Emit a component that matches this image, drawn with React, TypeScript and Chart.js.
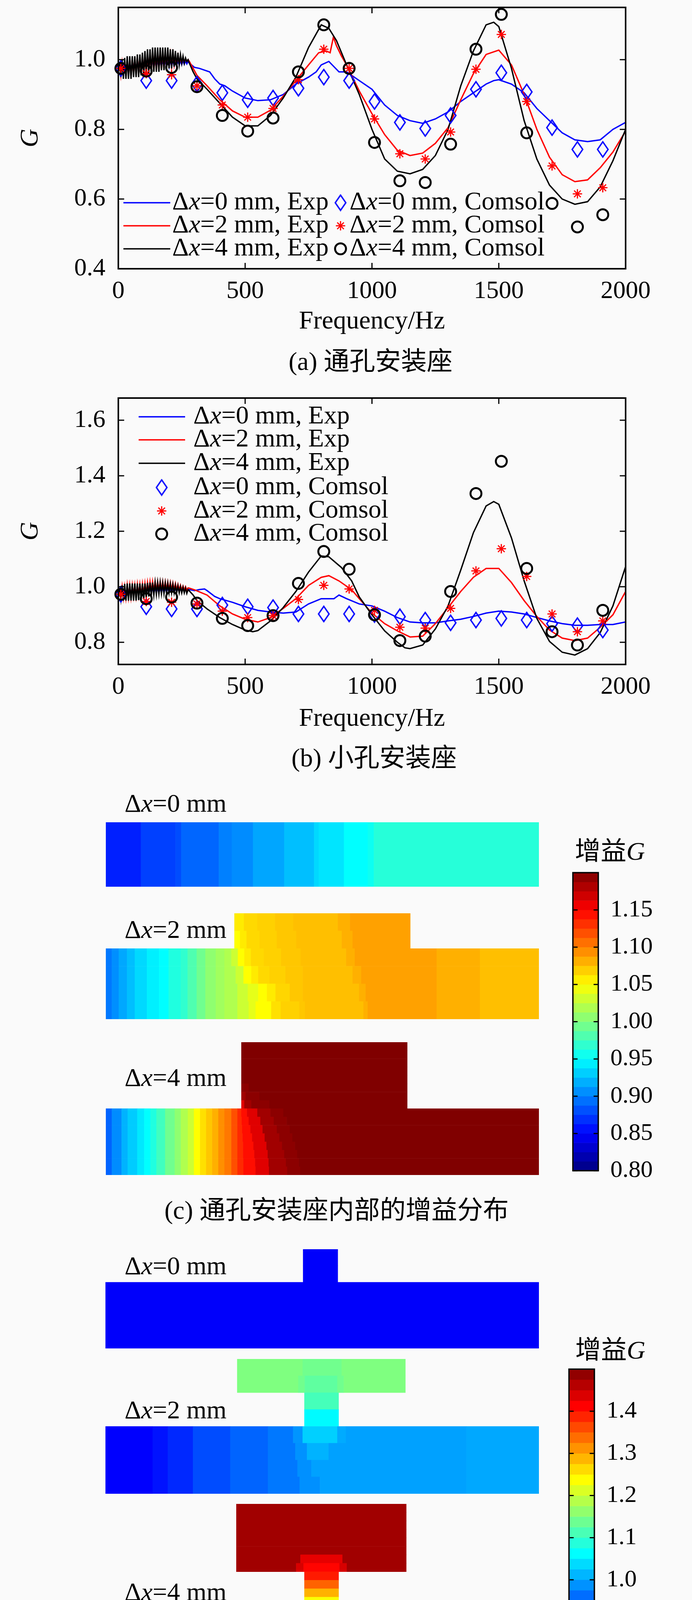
import React, { useEffect, useRef } from 'react';
import { Chart, registerables } from 'chart.js';

Chart.register(...registerables);

const SERIF = "'Liberation Serif', 'Noto Sans CJK SC', serif";
const BLUE = '#0000ff';
const RED = '#ff0000';
const BLACK = '#000000';

// ---------------- line-chart data ----------------
const xTicks = [0, 500, 1000, 1500, 2000];
const aYTicks = [0.4, 0.6, 0.8, 1.0];
const bYTicks = [0.8, 1.0, 1.2, 1.4, 1.6];
const seriesLabels = ['Δx=0 mm, Exp', 'Δx=2 mm, Exp', 'Δx=4 mm, Exp', 'Δx=0 mm, Comsol', 'Δx=2 mm, Comsol', 'Δx=4 mm, Comsol'];

const comHz = [10, 110, 210, 310, 410, 510, 610, 710, 810, 910, 1010, 1110, 1210, 1310, 1410, 1510, 1610, 1710, 1810, 1910];
const lowHz = [5, 10, 15, 20, 25, 30, 35, 40, 45, 50, 55, 60, 65, 70, 75, 80, 85, 90, 95, 100, 105, 110, 115, 120, 125, 130, 135, 140, 145, 150, 155, 160, 165, 170, 175, 180, 185, 190, 195, 200, 205, 210, 215, 220, 225, 230, 235, 240, 245, 250, 255, 260, 265, 270, 275];

// (a) through-hole mount
const aBlackLow = [0.99, 0.95, 1.0, 0.945, 1.005, 0.945, 1.01, 0.945, 1.01, 0.945, 1.01, 0.95, 1.01, 0.95, 1.015, 0.95, 1.015, 0.955, 1.02, 0.955, 1.025, 0.96, 1.03, 0.96, 1.03, 0.96, 1.035, 0.965, 1.035, 0.965, 1.035, 0.965, 1.035, 0.97, 1.035, 0.97, 1.035, 0.97, 1.035, 0.975, 1.03, 0.975, 1.03, 0.98, 1.025, 0.98, 1.02, 0.985, 1.015, 0.99, 1.01, 0.99, 1.005, 0.995, 1.0];
const aRedLow = [0.985, 0.955, 0.99, 0.955, 0.995, 0.955, 0.995, 0.955, 1.0, 0.955, 1.0, 0.96, 1.0, 0.96, 1.005, 0.96, 1.005, 0.96, 1.01, 0.96, 1.01, 0.965, 1.015, 0.965, 1.015, 0.97, 1.02, 0.97, 1.02, 0.97, 1.02, 0.975, 1.02, 0.975, 1.02, 0.975, 1.02, 0.98, 1.02, 0.98, 1.015, 0.98, 1.015, 0.985, 1.01, 0.985, 1.01, 0.99, 1.005, 0.99, 1.005, 0.995, 1.0, 0.995, 1.0];
const aBlueLow = [0.985, 0.965, 0.988, 0.965, 0.99, 0.967, 0.99, 0.97, 0.992, 0.97, 0.993, 0.972, 0.995, 0.972, 0.996, 0.974, 0.997, 0.975, 0.998, 0.975, 0.999, 0.976, 1.0, 0.977, 1.0, 0.978, 1.0, 0.978, 1.0, 0.978, 1.0, 0.979, 1.0, 0.979, 1.0, 0.98, 1.0, 0.98, 1.0, 0.98, 0.999, 0.981, 0.999, 0.982, 0.998, 0.983, 0.998, 0.985, 0.997, 0.986, 0.997, 0.987, 0.996, 0.988, 0.995];
const aBlackHi = [[280, 0.99], [295, 0.965], [310, 0.945], [330, 0.93], [350, 0.915], [400, 0.875], [450, 0.835], [500, 0.81], [550, 0.81], [600, 0.84], [650, 0.89], [700, 0.95], [750, 1.035], [800, 1.1], [830, 1.09], [860, 1.055], [900, 0.985], [950, 0.9], [1000, 0.8], [1050, 0.715], [1100, 0.68], [1150, 0.6725], [1200, 0.685], [1250, 0.725], [1300, 0.8], [1350, 0.925], [1400, 1.025], [1450, 1.1], [1480, 1.1075], [1500, 1.095], [1550, 0.975], [1600, 0.825], [1650, 0.715], [1700, 0.64], [1750, 0.6], [1800, 0.585], [1850, 0.5925], [1900, 0.635], [1950, 0.71], [2000, 0.8]];
const aRedHi = [[280, 0.995], [310, 0.955], [350, 0.925], [400, 0.885], [450, 0.853], [500, 0.835], [550, 0.835], [600, 0.855], [650, 0.895], [700, 0.94], [750, 0.985], [790, 1.02], [820, 1.025], [835, 1.02], [848, 1.065], [860, 1.04], [880, 1.01], [900, 0.985], [950, 0.91], [1000, 0.845], [1050, 0.785], [1100, 0.74], [1150, 0.725], [1200, 0.732], [1250, 0.76], [1300, 0.805], [1350, 0.885], [1400, 0.96], [1450, 1.015], [1500, 1.0275], [1550, 0.985], [1600, 0.9], [1650, 0.8], [1700, 0.72], [1750, 0.67], [1800, 0.65], [1850, 0.655], [1900, 0.69], [1950, 0.735], [2000, 0.795]];
const aBlueHi = [[280, 0.99], [300, 0.978], [320, 0.975], [340, 0.97], [360, 0.965], [380, 0.945], [400, 0.93], [420, 0.925], [450, 0.91], [500, 0.89], [550, 0.8825], [600, 0.885], [650, 0.9], [700, 0.93], [750, 0.95], [780, 0.965], [800, 0.985], [830, 0.995], [850, 0.98], [870, 0.965], [900, 0.965], [950, 0.94], [1000, 0.915], [1050, 0.87], [1100, 0.84], [1150, 0.825], [1200, 0.8175], [1250, 0.83], [1300, 0.85], [1350, 0.88], [1400, 0.905], [1450, 0.93], [1480, 0.94], [1500, 0.9425], [1550, 0.93], [1600, 0.905], [1650, 0.86], [1700, 0.825], [1750, 0.79], [1800, 0.77], [1850, 0.765], [1900, 0.77], [1950, 0.8], [2000, 0.82]];
const aDiamond = [0.975, 0.94, 0.94, 0.93, 0.905, 0.885, 0.89, 0.918, 0.95, 0.94, 0.88, 0.82, 0.8025, 0.84, 0.915, 0.9625, 0.9075, 0.805, 0.7425, 0.7425];
const aStar = [0.975, 0.96, 0.957, 0.925, 0.87, 0.835, 0.86, 0.9425, 1.03, 0.975, 0.83, 0.73, 0.715, 0.7925, 0.9725, 1.0725, 0.88, 0.695, 0.615, 0.6325];
const aCircle = [0.975, 0.9675, 0.9775, 0.9225, 0.84, 0.795, 0.8325, 0.965, 1.1, 0.975, 0.7625, 0.6525, 0.6475, 0.7575, 1.03, 1.13, 0.79, 0.5875, 0.52, 0.555];

// (b) small-hole mount
const bBlackLow = [0.99, 0.955, 1.005, 0.95, 1.01, 0.95, 1.012, 0.95, 1.012, 0.95, 1.012, 0.95, 1.012, 0.95, 1.012, 0.952, 1.012, 0.952, 1.012, 0.955, 1.012, 0.96, 1.014, 0.965, 1.015, 0.968, 1.015, 0.97, 1.015, 0.972, 1.015, 0.974, 1.015, 0.975, 1.014, 0.976, 1.013, 0.977, 1.012, 0.978, 1.01, 0.978, 1.008, 0.978, 1.005, 0.978, 1.003, 0.978, 1.0, 0.978, 0.998, 0.978, 0.995, 0.976, 0.99];
const bRedLow = [0.985, 0.96, 1.0, 0.96, 1.0, 0.96, 1.005, 0.962, 1.005, 0.962, 1.005, 0.965, 1.005, 0.965, 1.008, 0.968, 1.008, 0.97, 1.01, 0.972, 1.012, 0.975, 1.015, 0.98, 1.017, 0.982, 1.018, 0.985, 1.018, 0.985, 1.018, 0.987, 1.018, 0.987, 1.018, 0.988, 1.017, 0.988, 1.016, 0.988, 1.015, 0.988, 1.013, 0.988, 1.011, 0.988, 1.008, 0.988, 1.005, 0.988, 1.002, 0.988, 1.0, 0.988, 0.996];
const bBlueLow = [0.99, 0.968, 0.995, 0.97, 0.995, 0.97, 0.997, 0.972, 0.997, 0.972, 0.998, 0.973, 0.998, 0.974, 0.998, 0.975, 0.998, 0.975, 0.998, 0.975, 0.998, 0.976, 0.998, 0.976, 0.998, 0.977, 0.998, 0.977, 0.998, 0.978, 0.998, 0.978, 0.998, 0.979, 0.998, 0.979, 0.997, 0.98, 0.997, 0.98, 0.996, 0.981, 0.995, 0.982, 0.994, 0.983, 0.993, 0.984, 0.992, 0.985, 0.99, 0.985, 0.99, 0.986, 0.988];
const bBlackHi = [[280, 0.985], [295, 0.97], [310, 0.95], [350, 0.92], [400, 0.889], [450, 0.864], [500, 0.844], [530, 0.838], [550, 0.842], [600, 0.877], [650, 0.925], [700, 0.983], [750, 1.053], [800, 1.111], [830, 1.108], [880, 1.069], [920, 1.021], [950, 0.963], [1000, 0.899], [1050, 0.841], [1100, 0.8], [1130, 0.78], [1150, 0.777], [1200, 0.79], [1250, 0.848], [1300, 0.931], [1350, 1.06], [1400, 1.195], [1450, 1.291], [1480, 1.307], [1500, 1.297], [1550, 1.176], [1600, 1.021], [1650, 0.886], [1700, 0.803], [1750, 0.764], [1800, 0.754], [1850, 0.777], [1900, 0.835], [1950, 0.931], [2000, 1.073]];
const bRedHi = [[280, 0.995], [300, 0.989], [350, 0.97], [400, 0.931], [450, 0.902], [500, 0.883], [550, 0.873], [600, 0.889], [650, 0.922], [700, 0.957], [750, 1.005], [800, 1.034], [830, 1.04], [870, 1.021], [920, 0.989], [950, 0.957], [1000, 0.905], [1050, 0.867], [1100, 0.841], [1150, 0.819], [1200, 0.822], [1250, 0.867], [1300, 0.925], [1350, 0.983], [1400, 1.034], [1450, 1.066], [1500, 1.066], [1550, 1.015], [1600, 0.95], [1650, 0.893], [1700, 0.844], [1750, 0.815], [1800, 0.806], [1850, 0.815], [1900, 0.854], [1950, 0.899], [2000, 0.983]];
const bBlueHi = [[280, 0.99], [300, 0.986], [320, 0.99], [340, 0.992], [350, 0.986], [380, 0.965], [400, 0.957], [450, 0.944], [500, 0.928], [550, 0.915], [600, 0.909], [650, 0.905], [700, 0.909], [750, 0.938], [800, 0.957], [850, 0.957], [870, 0.97], [900, 0.957], [950, 0.938], [1000, 0.931], [1050, 0.912], [1100, 0.889], [1150, 0.873], [1200, 0.87], [1250, 0.87], [1300, 0.877], [1350, 0.883], [1400, 0.893], [1450, 0.905], [1500, 0.912], [1550, 0.909], [1600, 0.902], [1650, 0.889], [1700, 0.877], [1750, 0.867], [1800, 0.861], [1850, 0.861], [1900, 0.864], [1950, 0.864], [2000, 0.873]];
const bDiamond = [0.973, 0.928, 0.92, 0.92, 0.934, 0.928, 0.925, 0.902, 0.902, 0.902, 0.9, 0.892, 0.88, 0.87, 0.88, 0.886, 0.88, 0.867, 0.86, 0.844];
const bStar = [0.973, 0.947, 0.944, 0.938, 0.912, 0.889, 0.896, 0.954, 1.005, 0.992, 0.915, 0.854, 0.851, 0.922, 1.057, 1.137, 1.037, 0.902, 0.838, 0.877];
const bCircle = [0.973, 0.957, 0.963, 0.941, 0.886, 0.86, 0.896, 1.012, 1.127, 1.063, 0.899, 0.806, 0.822, 0.983, 1.336, 1.452, 1.066, 0.838, 0.79, 0.915];

// ---------------- gain-distribution data: [x0 %, x1 %, G] per row ----------------
type Seg = number[];
const cRange = [0.8, 1.2];
const dRange = [0.8, 1.5];
const cTicks = [0.8, 0.85, 0.9, 0.95, 1.0, 1.05, 1.1, 1.15];
const dTicks = [0.8, 0.9, 1.0, 1.1, 1.2, 1.3, 1.4];

const c0Bar: Seg[] = [[0, 8.1, 0.862], [8.1, 16.1, 0.875], [16.1, 17.4, 0.88], [17.4, 26.1, 0.89], [26.1, 29.1, 0.9], [29.1, 34.0, 0.905], [34.0, 41.2, 0.915], [41.2, 48.1, 0.925], [48.1, 49.2, 0.935], [49.2, 55.0, 0.94], [55.0, 60.5, 0.95], [60.5, 61.9, 0.955], [61.9, 100, 0.965]];

const c2Left: Seg[] = [[0, 1.4, 0.897], [1.4, 3.0, 0.906], [3.0, 4.9, 0.916], [4.9, 6.7, 0.925], [6.7, 9.5, 0.935], [9.5, 12.3, 0.944], [12.3, 14.5, 0.95], [14.5, 17.3, 0.962], [17.3, 18.9, 0.969], [18.9, 21.0, 0.981], [21.0, 23.0, 0.994], [23.0, 25.4, 1.006], [25.4, 27.4, 1.013]];
const c2Right: Seg[] = [[76.4, 86.4, 1.081], [86.4, 100, 1.075]];
const c2TopA: Seg[] = [[29.7, 31.9, 1.058], [31.9, 35.0, 1.065], [35.0, 39.1, 1.068], [39.1, 43.3, 1.072], [43.3, 53.6, 1.075], [53.6, 56.4, 1.081], [56.4, 70.3, 1.087]];
const c2TopB: Seg[] = [[29.7, 31.0, 1.05], [31.0, 32.5, 1.058], [32.5, 35.5, 1.065], [35.5, 39.5, 1.068], [39.5, 44, 1.072], [44, 54.5, 1.075], [54.5, 57, 1.081], [57, 70.3, 1.087]];
const c2Bot1: Seg[] = [[27.4, 29.0, 1.019], [29.0, 30.5, 1.03], [30.5, 32.0, 1.05], [32.0, 33.5, 1.058], [33.5, 36.5, 1.065], [36.5, 40.5, 1.068], [40.5, 45, 1.072], [45, 55.5, 1.075], [55.5, 57.5, 1.081], [57.5, 76.4, 1.087]];
const c2Bot2: Seg[] = [[27.4, 30.0, 1.019], [30.0, 31.8, 1.03], [31.8, 33.6, 1.05], [33.6, 35.2, 1.058], [35.2, 37.8, 1.065], [37.8, 41.5, 1.068], [41.5, 45.5, 1.072], [45.5, 57, 1.075], [57, 59, 1.081], [59, 76.4, 1.087]];
const c2Bot3: Seg[] = [[27.4, 30.4, 1.019], [30.4, 32.8, 1.03], [32.8, 35.2, 1.04], [35.2, 37.2, 1.05], [37.2, 39.2, 1.058], [39.2, 42.5, 1.066], [42.5, 45.5, 1.072], [45.5, 58.5, 1.075], [58.5, 60, 1.081], [60, 76.4, 1.087]];
const c2Bot4: Seg[] = [[27.4, 30.4, 1.019], [30.4, 33.0, 1.03], [33.0, 34.6, 1.04], [34.6, 38.2, 1.05], [38.2, 40.4, 1.062], [40.4, 44.7, 1.068], [44.7, 46, 1.072], [46, 59.5, 1.075], [59.5, 60.5, 1.081], [60.5, 76.4, 1.087]];

const c4Left: Seg[] = [[0, 1.4, 0.889], [1.4, 3.65, 0.905], [3.65, 5.05, 0.92], [5.05, 7.27, 0.93], [7.27, 8.88, 0.941], [8.88, 10.29, 0.95], [10.29, 11.7, 0.962], [11.7, 13.71, 0.975], [13.71, 15.93, 0.994], [15.93, 17.34, 1.006], [17.34, 18.95, 1.019], [18.95, 20.36, 1.03], [20.36, 21.77, 1.05], [21.77, 23.18, 1.062], [23.18, 24.58, 1.072], [24.58, 25.99, 1.081], [25.99, 27.4, 1.094]];
const c4Top0: Seg[] = [[31.3, 69.6, 1.25]];
const c4Top5: Seg[] = [[31.3, 33.0, 1.195], [33.0, 69.6, 1.25]];
const c4Top6: Seg[] = [[31.3, 32.3, 1.187], [32.3, 35.5, 1.195], [35.5, 69.6, 1.25]];
const c4Top7: Seg[] = [[31.3, 32.0, 1.162], [32.0, 33.6, 1.187], [33.6, 37.8, 1.195], [37.8, 69.6, 1.25]];
const c4Bot0: Seg[] = [[27.4, 29.0, 1.103], [29.0, 30.4, 1.119], [30.4, 31.3, 1.134], [31.3, 32.6, 1.145], [32.6, 35.0, 1.162], [35.0, 38.0, 1.187], [38.0, 41.0, 1.195], [41.0, 100, 1.25]];
const c4Bot1: Seg[] = [[27.4, 29.0, 1.103], [29.0, 30.4, 1.119], [30.4, 31.4, 1.134], [31.4, 33.0, 1.145], [33.0, 35.7, 1.162], [35.7, 38.8, 1.187], [38.8, 41.8, 1.195], [41.8, 100, 1.25]];
const c4Bot2: Seg[] = [[27.4, 29.0, 1.103], [29.0, 30.4, 1.119], [30.4, 31.5, 1.134], [31.5, 33.4, 1.145], [33.4, 36.2, 1.162], [36.2, 39.5, 1.187], [39.5, 42.5, 1.195], [42.5, 100, 1.25]];
const c4Bot3: Seg[] = [[27.4, 29.0, 1.103], [29.0, 30.4, 1.119], [30.4, 31.6, 1.134], [31.6, 33.8, 1.145], [33.8, 36.7, 1.162], [36.7, 40.1, 1.187], [40.1, 43.1, 1.195], [43.1, 100, 1.25]];
const c4Bot4: Seg[] = [[27.4, 29.0, 1.103], [29.0, 30.4, 1.119], [30.4, 31.7, 1.134], [31.7, 34.1, 1.145], [34.1, 37.1, 1.162], [37.1, 40.7, 1.187], [40.7, 43.7, 1.195], [43.7, 100, 1.25]];
const c4Bot5: Seg[] = [[27.4, 29.0, 1.103], [29.0, 30.4, 1.119], [30.4, 31.7, 1.134], [31.7, 34.3, 1.145], [34.3, 37.4, 1.162], [37.4, 41.2, 1.187], [41.2, 44.2, 1.195], [44.2, 100, 1.25]];
const c4Bot6: Seg[] = [[27.4, 29.0, 1.103], [29.0, 30.4, 1.119], [30.4, 31.8, 1.134], [31.8, 34.5, 1.145], [34.5, 37.6, 1.162], [37.6, 41.6, 1.187], [41.6, 44.6, 1.195], [44.6, 100, 1.25]];
const c4Bot7: Seg[] = [[27.4, 29.0, 1.103], [29.0, 30.4, 1.119], [30.4, 31.8, 1.134], [31.8, 34.6, 1.145], [34.6, 37.7, 1.162], [37.7, 41.9, 1.187], [41.9, 44.9, 1.195], [44.9, 100, 1.25]];

const d0Nub: Seg[] = [[45.6, 53.6, 0.885]];
const d0Bar: Seg[] = [[0, 100, 0.885]];

const d2Plate0: Seg[] = [[30.4, 45.5, 1.15], [45.5, 54.5, 1.14], [54.5, 69.2, 1.15]];
const d2Plate1: Seg[] = [[30.4, 44.5, 1.15], [44.5, 46, 1.14], [46, 53.5, 1.128], [53.5, 55, 1.14], [55, 69.2, 1.15]];
const d2Stem0: Seg[] = [[45.9, 53.8, 1.11]];
const d2Stem1: Seg[] = [[45.9, 53.8, 1.06]];
const d2Left: Seg[] = [[0, 10.9, 0.887], [10.9, 14.4, 0.9], [14.4, 20.2, 0.915], [20.2, 28.8, 0.94], [28.8, 37.5, 0.956]];
const d2Bar0: Seg[] = [[37.5, 43.3, 0.97], [43.3, 45.5, 0.99], [45.5, 53.5, 1.03], [53.5, 55.5, 1.005], [55.5, 83.3, 0.998], [83.3, 100, 1.003]];
const d2Bar1: Seg[] = [[37.5, 43.8, 0.97], [43.8, 46.5, 0.988], [46.5, 51.5, 1.01], [51.5, 83.3, 0.998], [83.3, 100, 1.003]];
const d2Bar2: Seg[] = [[37.5, 44.3, 0.97], [44.3, 47.5, 0.986], [47.5, 83.3, 0.998], [83.3, 100, 1.003]];
const d2Bar3: Seg[] = [[37.5, 44.8, 0.97], [44.8, 49.5, 0.986], [49.5, 83.3, 0.998], [83.3, 100, 1.003]];

const d4Plate: Seg[] = [[30.2, 69.4, 1.477]];
const d4Plate6: Seg[] = [[30.2, 45.0, 1.477], [45.0, 54.7, 1.43], [54.7, 69.4, 1.477]];
const d4Plate7: Seg[] = [[30.2, 44.0, 1.477], [44.0, 45.7, 1.44], [45.7, 54.0, 1.41], [54.0, 55.7, 1.44], [55.7, 69.4, 1.477]];
const d4Stem0: Seg[] = [[45.9, 53.8, 1.395]];
const d4Stem1: Seg[] = [[45.9, 53.8, 1.345]];
const d4Stem2: Seg[] = [[45.9, 53.8, 1.29]];
const d4Stem3: Seg[] = [[45.9, 53.8, 1.235]];
const d4Left: Seg[] = [[0, 4.4, 0.8], [4.4, 10.2, 0.828], [10.2, 14.4, 0.849], [14.4, 18.8, 0.877], [18.8, 22.3, 0.898], [22.3, 26.1, 0.915], [26.1, 29.5, 0.931], [29.5, 32.6, 0.956], [32.6, 36.0, 0.986], [36.0, 39.2, 1.01], [39.2, 41.9, 1.031]];
const d4Bar0: Seg[] = [[41.9, 44.5, 1.055], [44.5, 46, 1.09], [46, 53.6, 1.17], [53.6, 55, 1.12], [55, 100, 1.106]];
const d4Bar1: Seg[] = [[41.9, 45, 1.052], [45, 46.8, 1.085], [46.8, 52.8, 1.13], [52.8, 54.5, 1.11], [54.5, 100, 1.106]];
const d4Bar2: Seg[] = [[41.9, 45, 1.052], [45, 52.3, 1.075], [52.3, 100, 1.106]];

// ---------------- helpers ----------------
function jet(v: number, lo: number, hi: number) {
  let t = (v - lo) / (hi - lo);
  t = Math.min(1, Math.max(0, t));
  const c = (x: number) => Math.round(255 * Math.min(1, Math.max(0, x)));
  return `rgb(${c(1.5 - Math.abs(4 * t - 3))},${c(1.5 - Math.abs(4 * t - 2))},${c(1.5 - Math.abs(4 * t - 1))})`;
}

function drawRich(ctx: CanvasRenderingContext2D, label: string, x: number, y: number, size: number) {
  const parts = [
    { t: label.slice(0, 1), i: false },
    { t: label.slice(1, 2), i: true },
    { t: label.slice(2), i: false },
  ];
  let cx = x;
  ctx.fillStyle = '#000';
  ctx.textAlign = 'left';
  ctx.textBaseline = 'middle';
  for (const p of parts) {
    ctx.font = `${p.i ? 'italic ' : ''}${size}px ${SERIF}`;
    ctx.fillText(p.t, cx, y);
    cx += ctx.measureText(p.t).width;
  }
}

function makeDiamond(): HTMLCanvasElement {
  const cv = document.createElement('canvas');
  cv.width = 33;
  cv.height = 45;
  const g = cv.getContext('2d')!;
  g.strokeStyle = BLUE;
  g.lineWidth = 3.5;
  g.lineJoin = 'miter';
  g.beginPath();
  g.moveTo(16.5, 3);
  g.lineTo(30, 22.5);
  g.lineTo(16.5, 42);
  g.lineTo(3, 22.5);
  g.closePath();
  g.stroke();
  return cv;
}

function drawMarker(ctx: CanvasRenderingContext2D, kind: string, x: number, y: number, diamond: HTMLCanvasElement) {
  ctx.save();
  if (kind === 'diamond') {
    ctx.drawImage(diamond, x - diamond.width / 2, y - diamond.height / 2);
  } else if (kind === 'star') {
    ctx.strokeStyle = RED;
    ctx.lineWidth = 3;
    const r = 12;
    const d = r * Math.SQRT1_2;
    ctx.beginPath();
    ctx.moveTo(x - r, y); ctx.lineTo(x + r, y);
    ctx.moveTo(x, y - r); ctx.lineTo(x, y + r);
    ctx.moveTo(x - d, y - d); ctx.lineTo(x + d, y + d);
    ctx.moveTo(x - d, y + d); ctx.lineTo(x + d, y - d);
    ctx.stroke();
  } else {
    ctx.strokeStyle = BLACK;
    ctx.lineWidth = 5;
    ctx.beginPath();
    ctx.arc(x, y, 14, 0, Math.PI * 2);
    ctx.stroke();
  }
  ctx.restore();
}

function framePlugin(opts: { lw: number; tl: number; tw: number; xt: boolean; yt: boolean }) {
  return {
    id: 'frameBox',
    afterDraw(chart: any) {
      const { ctx, chartArea: a } = chart;
      ctx.save();
      ctx.strokeStyle = '#000';
      ctx.lineWidth = opts.tw;
      ctx.beginPath();
      if (opts.xt) {
        const sx = chart.scales.x;
        for (const t of sx.ticks) {
          const px = sx.getPixelForValue(t.value);
          ctx.moveTo(px, a.bottom); ctx.lineTo(px, a.bottom - opts.tl);
          ctx.moveTo(px, a.top); ctx.lineTo(px, a.top + opts.tl);
        }
      }
      if (opts.yt) {
        const sy = chart.scales.y;
        for (const t of sy.ticks) {
          const py = sy.getPixelForValue(t.value);
          ctx.moveTo(a.left, py); ctx.lineTo(a.left + opts.tl, py);
          ctx.moveTo(a.right, py); ctx.lineTo(a.right - opts.tl, py);
        }
      }
      ctx.stroke();
      ctx.lineWidth = opts.lw;
      ctx.strokeRect(a.left, a.top, a.right - a.left, a.bottom - a.top);
      ctx.restore();
    },
  };
}

type LegItem = { kind: string; color?: string; x0: number; x1?: number; y: number; tx: number; label: string };
function legendPlugin(items: LegItem[], diamond: HTMLCanvasElement) {
  return {
    id: 'customLegend',
    afterDatasetsDraw(chart: any) {
      const ctx: CanvasRenderingContext2D = chart.ctx;
      ctx.save();
      for (const it of items) {
        if (it.kind === 'line') {
          ctx.strokeStyle = it.color!;
          ctx.lineWidth = 3.5;
          ctx.beginPath();
          ctx.moveTo(it.x0, it.y);
          ctx.lineTo(it.x1!, it.y);
          ctx.stroke();
        } else {
          drawMarker(ctx, it.kind, it.x0, it.y, diamond);
        }
        drawRich(ctx, it.label, it.tx, it.y, 66);
      }
      ctx.restore();
    },
  };
}

function pts(hz: number[], vals: number[]) {
  return hz.map((f, i) => ({ x: f, y: vals[i] }));
}
function pairs(p: number[][]) {
  return p.map(([f, g]) => ({ x: f, y: g }));
}

function lineConfig(p: any) {
  const diamond = makeDiamond();
  const lineDs = (label: string, data: any[], color: string, order: number) => ({
    type: 'line', label, data, borderColor: color, backgroundColor: color, borderWidth: 3.5,
    pointRadius: 0, tension: 0, order, fill: false,
  });
  const markDs = (label: string, data: any[], style: any, color: string, radius: number, bw: number, order: number) => ({
    type: 'line', label, data, showLine: false, pointStyle: style, pointRadius: radius,
    pointBorderColor: color, pointBackgroundColor: 'rgba(0,0,0,0)', pointBorderWidth: bw,
    borderColor: color, order, clip: false,
  });
  const datasets = [
    lineDs(seriesLabels[0], pts(lowHz, p.blueLow).concat(pairs(p.blueHi)), BLUE, 6),
    lineDs(seriesLabels[1], pts(lowHz, p.redLow).concat(pairs(p.redHi)), RED, 5),
    lineDs(seriesLabels[2], pts(lowHz, p.blackLow).concat(pairs(p.blackHi)), BLACK, 4),
    markDs(seriesLabels[3], pts(comHz, p.diamond), diamond, BLUE, 14, 3.5, 3),
    markDs(seriesLabels[4], pts(comHz, p.star), 'star', RED, 12, 3, 2),
    markDs(seriesLabels[5], pts(comHz, p.circle), 'circle', BLACK, 14, 5, 1),
  ];
  return {
    type: 'line',
    data: { datasets },
    plugins: [framePlugin({ lw: 4, tl: 15, tw: 3, xt: true, yt: true }), legendPlugin(p.legend, diamond)],
    options: {
      animation: false, responsive: false, devicePixelRatio: 1,
      layout: { padding: { top: p.padTop, right: 170, left: 0, bottom: 0 } },
      plugins: { legend: { display: false }, tooltip: { enabled: false } },
      scales: {
        x: {
          type: 'linear', min: 0, max: 2000,
          grid: { display: false }, border: { display: false },
          ticks: { font: { family: SERIF, size: 64 }, color: '#000', padding: 12, autoSkip: false, maxRotation: 0, minRotation: 0, callback: (v: any) => String(v) },
          title: { display: true, text: 'Frequency/Hz', font: { family: SERIF, size: 66 }, color: '#000', padding: { top: 0, bottom: p.xTitlePad } },
          afterBuildTicks: (s: any) => { s.ticks = xTicks.map((v) => ({ value: v })); },
          afterFit: (s: any) => { s.height = p.xAxisH; s.paddingLeft = 0; s.paddingRight = 0; },
        },
        y: {
          type: 'linear', min: p.yMin, max: p.yMax,
          grid: { display: false }, border: { display: false },
          ticks: { font: { family: SERIF, size: 64 }, color: '#000', padding: 25, callback: (v: any) => Number(v).toFixed(1) },
          title: { display: true, text: 'G', font: { family: SERIF, size: 66, style: 'italic' }, color: '#000', padding: { top: 39, bottom: 0 } },
          afterBuildTicks: (s: any) => { s.ticks = p.yTicks.map((v: number) => ({ value: v })); },
          afterFit: (s: any) => { s.width = 303; s.paddingTop = 0; s.paddingBottom = 0; },
        },
      },
    },
  };
}

function heatConfig(rows: Seg[][], range: number[]) {
  const labels = rows.map((_, i) => 'r' + i);
  const data: any[] = [];
  const colors: string[] = [];
  rows.forEach((segs, i) => {
    segs.forEach(([x0, x1, v]) => {
      data.push({ x: [x0, x1], y: 'r' + i });
      colors.push(jet(v, range[0], range[1]));
    });
  });
  return {
    type: 'bar',
    data: { labels, datasets: [{ data, backgroundColor: colors, borderWidth: 0, barPercentage: 1, categoryPercentage: 1 }] },
    options: {
      indexAxis: 'y', animation: false, responsive: false, devicePixelRatio: 1,
      layout: { padding: 0 },
      plugins: { legend: { display: false }, tooltip: { enabled: false } },
      scales: {
        x: { type: 'linear', min: 0, max: 100, display: false },
        y: { type: 'category', display: false },
      },
    },
  };
}

function colorbarConfig(range: number[], ticks: number[], nBands: number, decimals: number, axisW: number, pad: any) {
  const data: any[] = [];
  const colors: string[] = [];
  const step = (range[1] - range[0]) / nBands;
  for (let k = 0; k < nBands; k++) {
    const lo = range[0] + k * step;
    data.push({ x: 'cb', y: [lo, lo + step] });
    colors.push(jet(lo + step / 2, range[0], range[1]));
  }
  return {
    type: 'bar',
    data: { labels: ['cb'], datasets: [{ data, backgroundColor: colors, borderWidth: 0, barPercentage: 1, categoryPercentage: 1, grouped: false }] },
    plugins: [framePlugin({ lw: 3.5, tl: 12, tw: 3, xt: false, yt: true })],
    options: {
      animation: false, responsive: false, devicePixelRatio: 1,
      layout: { padding: pad },
      plugins: { legend: { display: false }, tooltip: { enabled: false } },
      scales: {
        x: { type: 'category', display: false },
        y: {
          type: 'linear', position: 'right', min: range[0], max: range[1],
          grid: { display: false }, border: { display: false },
          ticks: { font: { family: SERIF, size: 62 }, color: '#000', padding: 23, callback: (v: any) => Number(v).toFixed(decimals) },
          afterBuildTicks: (s: any) => { s.ticks = ticks.map((v) => ({ value: v })); },
          afterFit: (s: any) => { s.width = axisW; s.paddingTop = 0; s.paddingBottom = 0; },
        },
      },
    },
  };
}

// ---------------- components ----------------
function ChartBox({ left, top, width, height, make }: { left: number; top: number; width: number; height: number; make: () => any }) {
  const ref = useRef<HTMLCanvasElement>(null);
  useEffect(() => {
    const chart = new Chart(ref.current as HTMLCanvasElement, make());
    return () => chart.destroy();
  }, []);
  return <canvas ref={ref} width={width} height={height} style={{ position: 'absolute', left, top, width, height }} />;
}

function Label({ left, baseline, n }: { left: number; baseline: number; n: string }) {
  return (
    <div style={{ position: 'absolute', left, top: baseline - 55, fontSize: 66, lineHeight: '66px', whiteSpace: 'nowrap' }}>
      Δ<i>x</i>={n} mm
    </div>
  );
}

function Caption({ cx, cy, text }: { cx: number; cy: number; text: string }) {
  return (
    <div style={{ position: 'absolute', left: cx, top: cy - 30, transform: 'translateX(-50%)', fontSize: 66, lineHeight: '66px', whiteSpace: 'nowrap' }}>
      {text}
    </div>
  );
}

function CbTitle({ left, cy }: { left: number; cy: number }) {
  return (
    <div style={{ position: 'absolute', left, top: cy - 30, fontSize: 66, lineHeight: '66px', whiteSpace: 'nowrap' }}>
      增益<i>G</i>
    </div>
  );
}

const legendA: LegItem[] = [
  { kind: 'line', color: BLUE, x0: 316, x1: 436, y: 519, tx: 441, label: seriesLabels[0] },
  { kind: 'line', color: RED, x0: 316, x1: 436, y: 578, tx: 441, label: seriesLabels[1] },
  { kind: 'line', color: BLACK, x0: 316, x1: 436, y: 637, tx: 441, label: seriesLabels[2] },
  { kind: 'diamond', x0: 872, y: 519, tx: 895, label: seriesLabels[3] },
  { kind: 'star', x0: 872, y: 578, tx: 895, label: seriesLabels[4] },
  { kind: 'circle', x0: 872, y: 637, tx: 895, label: seriesLabels[5] },
];
const legendB: LegItem[] = [
  { kind: 'line', color: BLUE, x0: 355, x1: 474, y: 67, tx: 495, label: seriesLabels[0] },
  { kind: 'line', color: RED, x0: 355, x1: 474, y: 126, tx: 495, label: seriesLabels[1] },
  { kind: 'line', color: BLACK, x0: 355, x1: 474, y: 186, tx: 495, label: seriesLabels[2] },
  { kind: 'diamond', x0: 414, y: 248, tx: 495, label: seriesLabels[3] },
  { kind: 'star', x0: 414, y: 308, tx: 495, label: seriesLabels[4] },
  { kind: 'circle', x0: 414, y: 367, tx: 495, label: seriesLabels[5] },
];

const c2Rows: Seg[][] = [c2TopA, c2TopB, [...c2Left, ...c2Bot1, ...c2Right], [...c2Left, ...c2Bot2, ...c2Right], [...c2Left, ...c2Bot3, ...c2Right], [...c2Left, ...c2Bot4, ...c2Right]];
const c4Rows: Seg[][] = [
  c4Top0, c4Top0, c4Top0, c4Top0, c4Top0, c4Top5, c4Top6, c4Top7,
  [...c4Left, ...c4Bot0], [...c4Left, ...c4Bot1], [...c4Left, ...c4Bot2], [...c4Left, ...c4Bot3],
  [...c4Left, ...c4Bot4], [...c4Left, ...c4Bot5], [...c4Left, ...c4Bot6], [...c4Left, ...c4Bot7],
];
const d0Rows: Seg[][] = [d0Nub, d0Nub, d0Bar, d0Bar, d0Bar, d0Bar];
const d2Rows: Seg[][] = [d2Plate0, d2Plate1, d2Stem0, d2Stem1, [...d2Left, ...d2Bar0], [...d2Left, ...d2Bar1], [...d2Left, ...d2Bar2], [...d2Left, ...d2Bar3]];
const d4B2 = [...d4Left, ...d4Bar2];
const d4Rows: Seg[][] = [d4Plate, d4Plate, d4Plate, d4Plate, d4Plate, d4Plate, d4Plate6, d4Plate7, d4Stem0, d4Stem1, d4Stem2, d4Stem3, [...d4Left, ...d4Bar0], [...d4Left, ...d4Bar1], d4B2, d4B2, d4B2, d4B2, d4B2, d4B2];

export default function App() {
  return (
    <div style={{ position: 'absolute', left: 0, top: 0, width: 1772, height: 4401, background: '#fafafa', fontFamily: SERIF, color: '#000', overflow: 'hidden' }}>
      <ChartBox left={0} top={0} width={1772} height={880} make={() => lineConfig({
        blueLow: aBlueLow, redLow: aRedLow, blackLow: aBlackLow, blueHi: aBlueHi, redHi: aRedHi, blackHi: aBlackHi,
        diamond: aDiamond, star: aStar, circle: aCircle, yMin: 0.4, yMax: 1.15, yTicks: aYTicks,
        padTop: 2, xAxisH: 192, xTitlePad: 17, legend: legendA,
      })} />
      <Caption cx={949} cy={922} text="(a) 通孔安装座" />
      <ChartBox left={0} top={1000} width={1772} height={880} make={() => lineConfig({
        blueLow: bBlueLow, redLow: bRedLow, blackLow: bBlackLow, blueHi: bBlueHi, redHi: bRedHi, blackHi: bBlackHi,
        diamond: bDiamond, star: bStar, circle: bCircle, yMin: 0.72, yMax: 1.68, yTicks: bYTicks,
        padTop: 18, xAxisH: 179, xTitlePad: 0, legend: legendB,
      })} />
      <Caption cx={958} cy={1937} text="(b) 小孔安装座" />

      <Label left={319} baseline={2078} n="0" />
      <Label left={319} baseline={2401} n="2" />
      <Label left={319} baseline={2780} n="4" />
      <ChartBox left={271} top={2105} width={1109} height={165} make={() => heatConfig([c0Bar], cRange)} />
      <ChartBox left={271} top={2338} width={1109} height={271} make={() => heatConfig(c2Rows, cRange)} />
      <ChartBox left={271} top={2668} width={1109} height={340} make={() => heatConfig(c4Rows, cRange)} />
      <CbTitle left={1472} cy={2176} />
      <ChartBox left={1440} top={2190} width={332} height={850} make={() => colorbarConfig(cRange, cTicks, 32, 2, 240, { left: 27, top: 44, bottom: 43, right: 0 })} />
      <Caption cx={862} cy={3095} text="(c) 通孔安装座内部的增益分布" />

      <Label left={319} baseline={3262} n="0" />
      <Label left={319} baseline={3631} n="2" />
      <Label left={319} baseline={4097} n="4" />
      <ChartBox left={270} top={3198} width={1110} height={254} make={() => heatConfig(d0Rows, dRange)} />
      <ChartBox left={270} top={3479} width={1110} height={345} make={() => heatConfig(d2Rows, dRange)} />
      <ChartBox left={270} top={3850} width={1110} height={434} make={() => heatConfig(d4Rows, dRange)} />
      <CbTitle left={1473} cy={3453} />
      <ChartBox left={1430} top={3461} width={342} height={845} make={() => colorbarConfig(dRange, dTicks, 28, 1, 250, { left: 27, top: 44, bottom: 46, right: 0 })} />
      <Caption cx={862} cy={4363} text="(d) 小孔安装座内部的增益分布" />
    </div>
  );
}
